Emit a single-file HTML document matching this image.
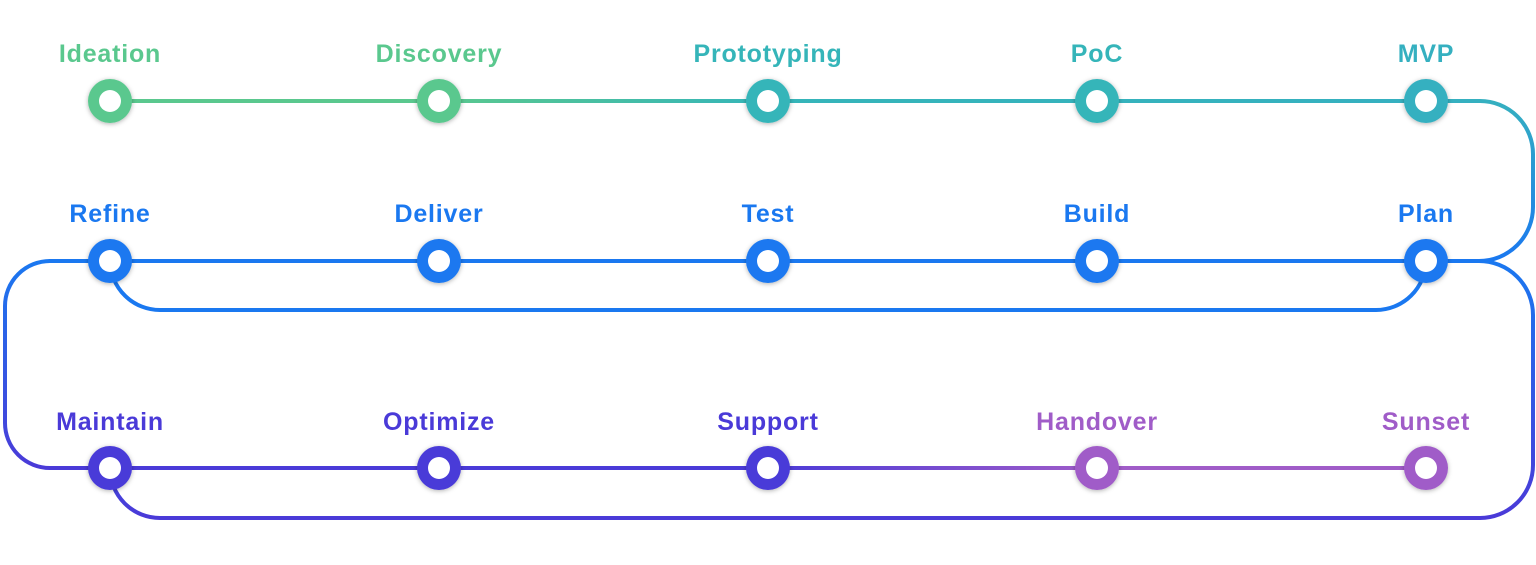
<!DOCTYPE html>
<html><head><style>html,body{margin:0;padding:0;background:#fff}svg{display:block}</style></head><body>
<svg width="1536" height="565" viewBox="0 0 1536 565" xmlns="http://www.w3.org/2000/svg">
<defs>
<linearGradient id="gTop" gradientUnits="userSpaceOnUse" x1="110" y1="0" x2="1426" y2="0">
<stop offset="0" stop-color="#5ac88e"/><stop offset="0.25" stop-color="#5ac88e"/><stop offset="0.5" stop-color="#35b5b9"/><stop offset="1" stop-color="#35b0c0"/></linearGradient>
<linearGradient id="gR1" gradientUnits="userSpaceOnUse" x1="0" y1="101" x2="0" y2="261">
<stop offset="0" stop-color="#35b0c0"/><stop offset="1" stop-color="#1a78f0"/></linearGradient>
<linearGradient id="gL" gradientUnits="userSpaceOnUse" x1="0" y1="261" x2="0" y2="468">
<stop offset="0" stop-color="#1a78f0"/><stop offset="1" stop-color="#4a3ad8"/></linearGradient>
<linearGradient id="gR2" gradientUnits="userSpaceOnUse" x1="0" y1="261" x2="0" y2="518">
<stop offset="0" stop-color="#1a78f0"/><stop offset="1" stop-color="#4a3ad8"/></linearGradient>
<linearGradient id="gBot" gradientUnits="userSpaceOnUse" x1="110" y1="0" x2="1426" y2="0">
<stop offset="0" stop-color="#4a3ad8"/><stop offset="0.5" stop-color="#4a3ad8"/><stop offset="0.75" stop-color="#a05cc8"/><stop offset="1" stop-color="#a05cc8"/></linearGradient>
<filter id="sh" x="-50%" y="-50%" width="200%" height="200%"><feDropShadow dx="0" dy="1" stdDeviation="2.5" flood-color="#000" flood-opacity="0.3"/></filter>
</defs>
<g fill="none" stroke-width="4" stroke-linecap="round">
<path d="M110 101 H1426" stroke="url(#gTop)"/>
<path d="M1426 101 H1480 A53 53 0 0 1 1533 154 V207 A54 54 0 0 1 1479 261" stroke="url(#gR1)"/>
<path d="M1479 261 H50" stroke="#1a78f0"/>
<path d="M50 261 A45 45 0 0 0 5 306 V423 A45 45 0 0 0 50 468" stroke="url(#gL)"/>
<path d="M1426 261 A50 50 0 0 1 1376 310 H160 A50 50 0 0 1 110 261" stroke="#1a78f0"/>
<path d="M1479 261 A54 54 0 0 1 1533 315 V465 A53 53 0 0 1 1480 518 H160 A50 50 0 0 1 110 468" stroke="url(#gR2)"/>
<path d="M50 468 H1426" stroke="url(#gBot)"/>
</g>
<g stroke-width="0" filter="url(#sh)">
<circle cx="110" cy="101" r="22" fill="#5ac88e"/><circle cx="439" cy="101" r="22" fill="#5ac88e"/>
<circle cx="768" cy="101" r="22" fill="#35b5b9"/><circle cx="1097" cy="101" r="22" fill="#35b5b9"/><circle cx="1426" cy="101" r="22" fill="#35b0c0"/>
<circle cx="110" cy="261" r="22" fill="#1a78f0"/><circle cx="439" cy="261" r="22" fill="#1a78f0"/><circle cx="768" cy="261" r="22" fill="#1a78f0"/><circle cx="1097" cy="261" r="22" fill="#1a78f0"/><circle cx="1426" cy="261" r="22" fill="#1a78f0"/>
<circle cx="110" cy="468" r="22" fill="#4a3ad8"/><circle cx="439" cy="468" r="22" fill="#4a3ad8"/><circle cx="768" cy="468" r="22" fill="#4a3ad8"/><circle cx="1097" cy="468" r="22" fill="#a05cc8"/><circle cx="1426" cy="468" r="22" fill="#a05cc8"/>
</g>
<g fill="#fff">
<circle cx="110" cy="101" r="11"/><circle cx="439" cy="101" r="11"/><circle cx="768" cy="101" r="11"/><circle cx="1097" cy="101" r="11"/><circle cx="1426" cy="101" r="11"/>
<circle cx="110" cy="261" r="11"/><circle cx="439" cy="261" r="11"/><circle cx="768" cy="261" r="11"/><circle cx="1097" cy="261" r="11"/><circle cx="1426" cy="261" r="11"/>
<circle cx="110" cy="468" r="11"/><circle cx="439" cy="468" r="11"/><circle cx="768" cy="468" r="11"/><circle cx="1097" cy="468" r="11"/><circle cx="1426" cy="468" r="11"/>
</g>
<g font-family="Liberation Sans, sans-serif" font-weight="bold" font-size="25" letter-spacing="0.8" text-anchor="middle">
<text x="110" y="62" fill="#5ac88e">Ideation</text>
<text x="439" y="62" fill="#5ac88e">Discovery</text>
<text x="768" y="62" fill="#35b5b9">Prototyping</text>
<text x="1097" y="62" fill="#35b5b9">PoC</text>
<text x="1426" y="62" fill="#35b0c0">MVP</text>
<text x="110" y="222" fill="#1a78f0">Refine</text>
<text x="439" y="222" fill="#1a78f0">Deliver</text>
<text x="768" y="222" fill="#1a78f0">Test</text>
<text x="1097" y="222" fill="#1a78f0">Build</text>
<text x="1426" y="222" fill="#1a78f0">Plan</text>
<text x="110" y="430" fill="#4a3ad8">Maintain</text>
<text x="439" y="430" fill="#4a3ad8">Optimize</text>
<text x="768" y="430" fill="#4a3ad8">Support</text>
<text x="1097" y="430" fill="#a05cc8">Handover</text>
<text x="1426" y="430" fill="#a05cc8">Sunset</text>
</g>
</svg>
</body></html>
